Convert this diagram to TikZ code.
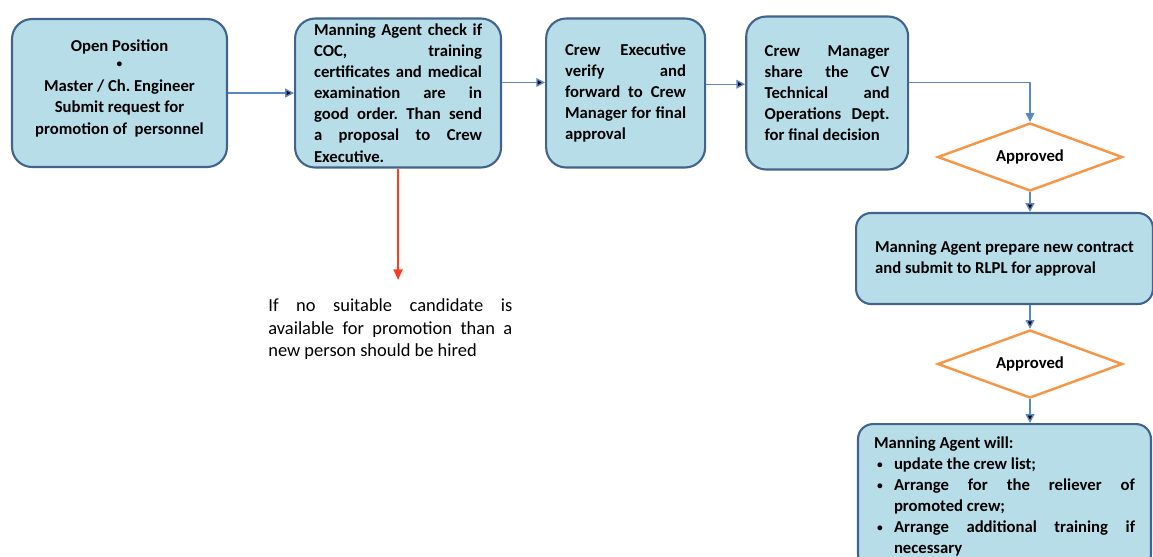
\documentclass[tikz,border=0pt]{standalone}
\usepackage{fontspec}
\setmainfont{Carlito}
\usepackage{xcolor}
\usepackage{tikz}
\usetikzlibrary{positioning,shapes.geometric,arrows.meta}
\definecolor{boxfill}{HTML}{B7DEE8}
\definecolor{boxline}{HTML}{41638C}
\definecolor{flowline}{HTML}{5B87C5}
\definecolor{decline}{HTML}{F79646}
\definecolor{noline}{HTML}{FF3B1F}
\newcommand{\smallbullet}{{\fontsize{6.5}{6.5}\selectfont\raisebox{.2ex}{•}}}
\newcommand{\listitem}{\noindent\hangindent=.4cm\hangafter=1\hbox to .4cm{\hspace{.06cm}\smallbullet\hfil}}
\tikzset{main box/.style={rectangle,rounded corners=.4cm,draw=boxline,line width=1.2pt,fill=boxfill,font=\bfseries\fontsize{9.5}{12}\selectfont\frenchspacing,inner xsep=.38cm,inner ysep=0pt,align=justify},
decision node/.style={diamond,aspect=2.72,draw=decline,line width=1.4pt,fill=white,minimum width=3.7cm,minimum height=1.36cm,inner sep=0pt,font=\bfseries\fontsize{9.5}{12}\selectfont},
flow line/.style={draw=flowline,line width=.8pt},
flow arrow/.style={-{Triangle[length=5pt,width=5pt]}},
stop arrow/.style={draw=noline,line width=1.2pt,-{Triangle[length=6pt,width=5pt]}},
note text/.style={text width=4.88cm,align=justify,inner sep=0pt,font=\fontsize{10.5}{13}\selectfont},}

\begin{document}
\begin{tikzpicture}[x=.02cm,y=-.02cm]
    \clip (0,0) rectangle (1153,556);
    \node[main box,align=center,minimum width=4.3cm,minimum height=2.96cm] (1) at (119.5,93) {Open Position\\[-2pt]\smallbullet\\[1pt]Master / Ch. Engineer\\Submit request for\\promotion of~ personnel\\[-5pt]};
    \node[main box,text width=3.36cm,minimum height=2.98cm] (2) [right=1.32cm of 1] {Manning Agent check if\linebreak COC, training\linebreak certificates and medical\linebreak examination are in\linebreak good order. Than send\linebreak a proposal to Crew\linebreak Executive.};
    \node[main box,text width=2.42cm,minimum height=2.98cm] (3) [right=.86cm of 2] {Crew Executive\linebreak verify and\linebreak forward to Crew\linebreak Manager for final\linebreak approval};
    \node[main box,text width=2.5cm,inner xsep=.37cm,minimum height=3.06cm] (4) [right=.78cm of 3] {Crew Manager\linebreak share the CV\linebreak Technical and\linebreak Operations Dept.\linebreak for final decision};
    \node[decision node] (a1) at (1030,157) {Approved};
    \node[main box,rounded corners=.3cm,align=left,minimum width=5.86cm,minimum height=1.82cm] (5) at (1004.5,258.5) {Manning Agent prepare new contract\\and submit to RLPL for approval};
    \node[decision node] (a2) at (1030,364) {Approved};
    \node[main box,rounded corners=.3cm,anchor=north,text width=5.22cm,inner xsep=.32cm,inner ysep=.16cm,minimum height=2.9cm] (6) at (1004.5,423) {\noindent Manning Agent will:\par
    \listitem update the crew list;\par
    \listitem Arrange for the reliever of\linebreak promoted crew;\par
    \listitem Arrange additional training if\linebreak necessary\par};
    \node[note text,anchor=north west] (n) at (268,298) {If no suitable candidate is\linebreak available for promotion than a\linebreak new person should be hired};
    \coordinate (r) at (2.south |- 0,280);

    \path[flow line]
    (1.east) edge[flow arrow] (1.east -| 2.west)
    ([yshift=6pt]2.east) edge[flow arrow] ([yshift=6pt]2.east -| 3.west)
    ([yshift=5pt]3.east) edge[flow arrow] ([yshift=5pt]3.east -| 4.west)
    (a1.south) edge[flow arrow] (a1.south |- 5.north)
    (a2.north |- 5.south) edge[flow arrow] (a2.north)
    (a2.south) edge[flow arrow] (a2.south |- 6.north)
    ;
    \draw[flow line,flow arrow] ([yshift=6pt]4.east) -| (a1.north);
    \draw[stop arrow] (2) -- (r);
\end{tikzpicture}
\end{document}
